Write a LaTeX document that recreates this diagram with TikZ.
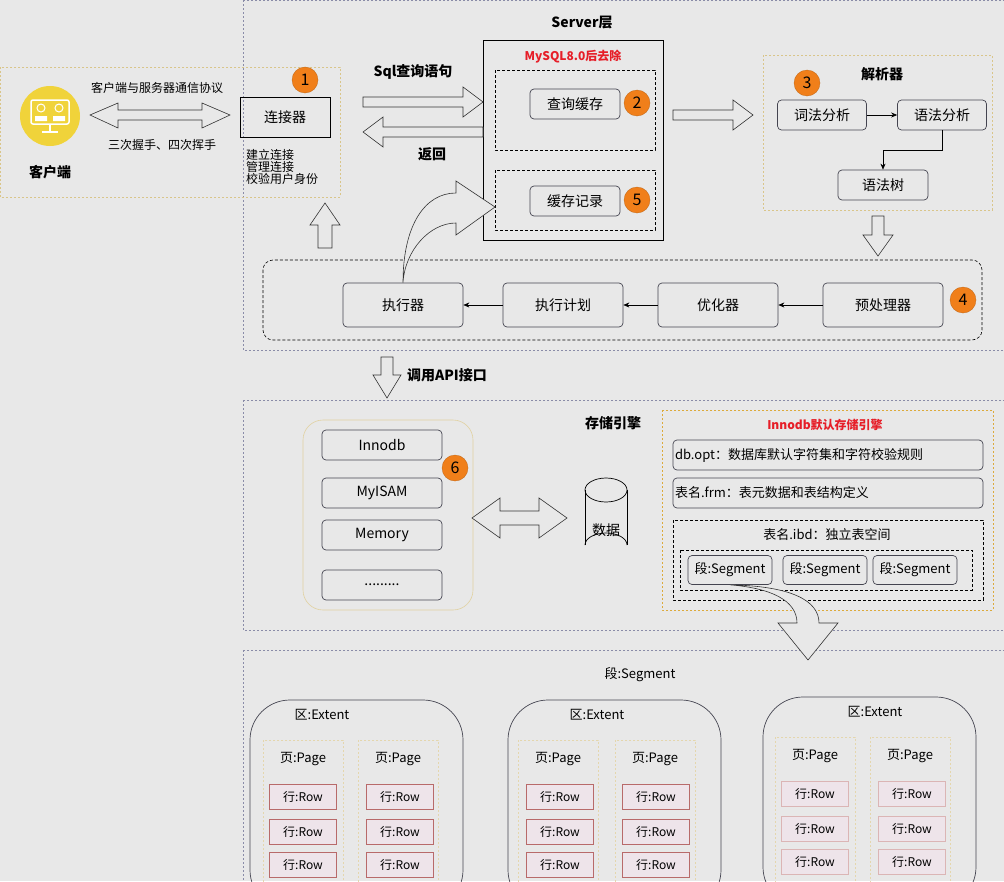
\documentclass[tikz,border=0pt]{standalone}
\usepackage{fontspec}
\setmainfont{Noto Sans CJK SC}
\usetikzlibrary{shapes.geometric,arrows.meta}
\definecolor{bg}{HTML}{E8E8E8}
\definecolor{badge}{HTML}{F07F1A}
\definecolor{zone}{HTML}{8A8CA8}
\definecolor{ylw}{HTML}{D9C58A}
\definecolor{rowb}{HTML}{B86A6A}
\definecolor{rowf}{HTML}{EEE4EA}
\definecolor{nodeb}{HTML}{444450}
\begin{document}
\begin{tikzpicture}[x=1pt,y=-1pt,font=\fontsize{14}{16}\selectfont,
  zonebox/.style={draw=zone,dashed,dash pattern=on 2pt off 2pt,line width=0.6pt},
  ydot/.style={draw=ylw,dash pattern=on 2pt off 2pt,line width=0.6pt},
  dbox/.style={draw=black,dashed,dash pattern=on 3pt off 2pt,line width=0.6pt},
  rbox/.style={draw=nodeb,rounded corners=4pt,line width=0.7pt},
  badgec/.style={circle,fill=badge,draw=badge!80!black,line width=0.3pt,inner sep=0pt,minimum size=26pt,font=\fontsize{16}{16}\selectfont},
  lbl/.style={font=\fontsize{14}{16}\selectfont\bfseries},
  sm/.style={font=\fontsize{12}{14}\selectfont},
  blk/.style={draw=black!80,fill=bg,line width=0.6pt,line join=miter},
  fl/.style={-{Stealth[length=6pt,width=5pt]},line width=0.6pt},
  row/.style={draw=rowb,fill=rowf,line width=0.7pt},
  ext/.style={draw=nodeb,rounded corners=40pt,line width=0.7pt}]
\fill[bg] (0,0) rectangle (1004,881);
\useasboundingbox (0,0) rectangle (1004,881);
% zones
\draw[zonebox] (243,0) rectangle (1004,350);
\draw[zonebox] (243,400) rectangle (1004,630);
\draw[zonebox] (243,650) rectangle (1010,890);
% client
\draw[ydot] (0,67) rectangle (340,197);
\fill[fill={rgb,255:red,240;green,211;blue,58}] (50,116) circle (30);
\draw[white,line width=1.5pt,rounded corners=2pt] (31,100) rectangle (69,124);
\draw[white,line width=1.5pt] (50,124)--(50,131) (42,132)--(58,132);
\draw[white,line width=1pt] (41,108) circle (4) (59,108) circle (4);
\fill[white] (35,116) rectangle (47,121) (53,116) rectangle (65,121);
\node[lbl] (clabel) at (50,172) {客户端};
\node[sm] (proto) at (157,88) {客户端与服务器通信协议};
\node[sm] (hs) at (162,145) {三次握手、四次挥手};
\draw[blk] (90,115)--(118,103)--(118,110)--(202,110)--(202,103)--(230,115)--(202,128)--(202,120)--(118,120)--(118,128)--cycle;
\node[draw=black,line width=0.7pt,minimum width=90pt,minimum height=40pt] (conn) at (285,117) {连接器};
\node[badgec] (b1) at (305,80) {1};
\node[sm,align=left,anchor=north west,inner sep=0pt] (ctext) at (246,149) {建立连接\\[-2pt]管理连接\\[-2pt]校验用户身份};
% server
\node[lbl] (srv) at (582,23) {Server层};
\draw[black,line width=0.8pt] (483,40) rectangle (663,240);
\node[font=\fontsize{12}{13}\selectfont\bfseries,text={rgb,255:red,230;green,30;blue,40}] (m8) at (573,57) {MySQL8.0后去除};
\draw[dbox] (495,70) rectangle (655,150);
\draw[dbox] (495,170) rectangle (655,230);
\node[rbox,minimum width=90pt,minimum height=30pt] (qc) at (575,104) {查询缓存};
\node[badgec] (b2) at (637,103) {2};
\node[rbox,minimum width=90pt,minimum height=30pt] (cr) at (575,201) {缓存记录};
\node[badgec] (b5) at (637,200) {5};
\node[lbl] (sql) at (413,72) {Sql查询语句};
\draw[blk] (363,97)--(463,97)--(463,87)--(483,102)--(463,117)--(463,107)--(363,107)--cycle;
\draw[blk] (483,127)--(383,127)--(383,117)--(363,132)--(383,147)--(383,137)--(483,137)--cycle;
\node[lbl] (ret) at (432,154) {返回};
\draw[blk] (673,110)--(733,110)--(733,100)--(753,115)--(733,130)--(733,120)--(673,120)--cycle;
% parser
\draw[ydot] (763,55) rectangle (992,210);
\node[lbl] (pars) at (882,74) {解析器};
\node[badgec] (b3) at (807,83) {3};
\node[rbox,minimum width=89pt,minimum height=30pt] (lex) at (822,115) {词法分析};
\node[rbox,minimum width=89pt,minimum height=30pt] (syn) at (942,115) {语法分析};
\node[rbox,minimum width=90pt,minimum height=30pt] (tree) at (883,185) {语法树};
\draw[fl] (lex)--(syn);
\draw[fl] (syn.south)--++(0,20)-|(tree.north);
\draw[blk] (872,216)--(884,216)--(884,235)--(893,235)--(878,256)--(863,235)--(872,235)--cycle;
% execution
\draw[dbox,rounded corners=10pt] (263,260) rectangle (982,340);
\node[rbox,minimum width=120pt,minimum height=44pt] (exe) at (403,305) {执行器};
\node[rbox,minimum width=120pt,minimum height=44pt] (plan) at (563,305) {执行计划};
\node[rbox,minimum width=120pt,minimum height=44pt] (opt) at (718,305) {优化器};
\node[rbox,minimum width=120pt,minimum height=44pt] (pre) at (883,305) {预处理器};
\node[badgec] (b4) at (963,300) {4};
\draw[fl] (pre)--(opt);
\draw[fl] (opt)--(plan);
\draw[fl] (plan)--(exe);
\draw[blk] (318,248)--(318,225)--(310,225)--(325,203)--(340,225)--(332,225)--(332,248)--cycle;
\draw[blk] (exe.north) .. controls (403,225) and (425,193) .. (456,193)--(456,181)--(495,207)--(456,235)--(456,223) .. controls (430,223) and (405,250) .. (exe.north);
% API arrow
\draw[blk] (381,357)--(393,357)--(393,375)--(401,375)--(387,398)--(373,375)--(381,375)--cycle;
\node[lbl] (api) at (447,375) {调用API接口};
% storage
\node[lbl] (stor) at (613,423) {存储引擎};
\draw[ydot,solid,draw=ylw!80,rounded corners=20pt] (303,420) rectangle (473,610);
\node[rbox,minimum width=120pt,minimum height=30pt] (inno) at (382,445) {Innodb};
\node[rbox,minimum width=120pt,minimum height=30pt] (myi) at (382,493) {MyISAM};
\node[rbox,minimum width=120pt,minimum height=30pt] (mem) at (382,535) {Memory};
\node[rbox,minimum width=120pt,minimum height=30pt] (dots) at (382,585) {.........};
\node[badgec] (b6) at (455,468) {6};
\draw[blk] (472,518)--(500,498)--(500,511)--(539,511)--(539,498)--(567,518)--(539,538)--(539,525)--(500,525)--(500,538)--cycle;
\draw[black,line width=0.7pt] (606,490) ellipse[x radius=21,y radius=12];
\draw[black,line width=0.7pt] (585,490)--(585,545) (627,490)--(627,545);
\draw[black,line width=0.7pt] (585,545) arc[start angle=180,end angle=360,x radius=21,y radius=12];
\node (data) at (606,530) {数据};
% innodb
\draw[ydot,draw={rgb,255:red,220;green,170;blue,60}] (662,410) rectangle (993,610);
\node[font=\fontsize{12}{13}\selectfont\bfseries,text={rgb,255:red,230;green,30;blue,40}] (innot) at (825,425) {Innodb默认存储引擎};
\node[rbox,minimum width=310pt,minimum height=30pt,text width=306pt,align=left,inner sep=2pt,font=\fontsize{13}{15}\selectfont] (dbopt) at (828,455) {db.opt：数据库默认字符集和字符校验规则};
\node[rbox,minimum width=310pt,minimum height=30pt,text width=306pt,align=left,inner sep=2pt,font=\fontsize{13}{15}\selectfont] (frm) at (828,493) {表名.frm：表元数据和表结构定义};
\draw[dbox] (673,520) rectangle (983,600);
\node[font=\fontsize{13}{15}\selectfont] (ibd) at (827,535) {表名.ibd：独立表空间};
\draw[dbox] (680,550) rectangle (972,590);
\node[rbox,minimum width=84pt,minimum height=29pt,font=\fontsize{13}{15}\selectfont] (s1) at (730,570) {段:Segment};
\node[rbox,minimum width=84pt,minimum height=29pt,font=\fontsize{13}{15}\selectfont] (s2) at (825,570) {段:Segment};
\node[rbox,minimum width=84pt,minimum height=29pt,font=\fontsize{13}{15}\selectfont] (s3) at (915,570) {段:Segment};
\draw[blk] (s1.south) .. controls (770,588) and (797,600) .. (797,623)--(778,623)--(808,660)--(838,623)--(819,623) .. controls (819,600) and (790,586) .. (s1.south);
% segment
\node[font=\fontsize{13}{15}\selectfont] (segt) at (640,675) {段:Segment};
\foreach \ex/\ey/\tx/\pa/\pb/\ra/\rb/\rr/\rw in {250/700/322/263/358/270/367/0/1,508/700/597/518/615/527/623/0/2,763/697/875/775/870/782/879/1/3}{
  \draw[ext] (\ex,\ey) rectangle ++(213,210);
  \node[font=\fontsize{13}{15}\selectfont] (e\rw) at (\tx,\ey+15) {区:Extent};
  \draw[ydot,draw=ylw!70] (\pa,\ey+40) rectangle ++(80,180);
  \draw[ydot,draw=ylw!70] (\pb,\ey+40) rectangle ++(80,180);
  \node[font=\fontsize{13}{15}\selectfont] (pa\rw) at (\pa+40,\ey+59) {页:Page};
  \node[font=\fontsize{13}{15}\selectfont] (pb\rw) at (\pb+40,\ey+59) {页:Page};
  \foreach \dy [count=\k] in {85,120,153}{
    \node[row,draw=rowb!\fpeval{100-50*\rr},line width=\fpeval{0.7+0.8*\rr}pt,minimum width=67pt,minimum height=25pt,font=\fontsize{12}{14}\selectfont] (ra\rw\k) at (\ra+33,\ey+\dy+12) {行:Row};
    \node[row,draw=rowb!\fpeval{100-50*\rr},line width=\fpeval{0.7+0.8*\rr}pt,minimum width=67pt,minimum height=25pt,font=\fontsize{12}{14}\selectfont] (rb\rw\k) at (\rb+33,\ey+\dy+12) {行:Row};
  }
}
\end{tikzpicture}
\end{document}
